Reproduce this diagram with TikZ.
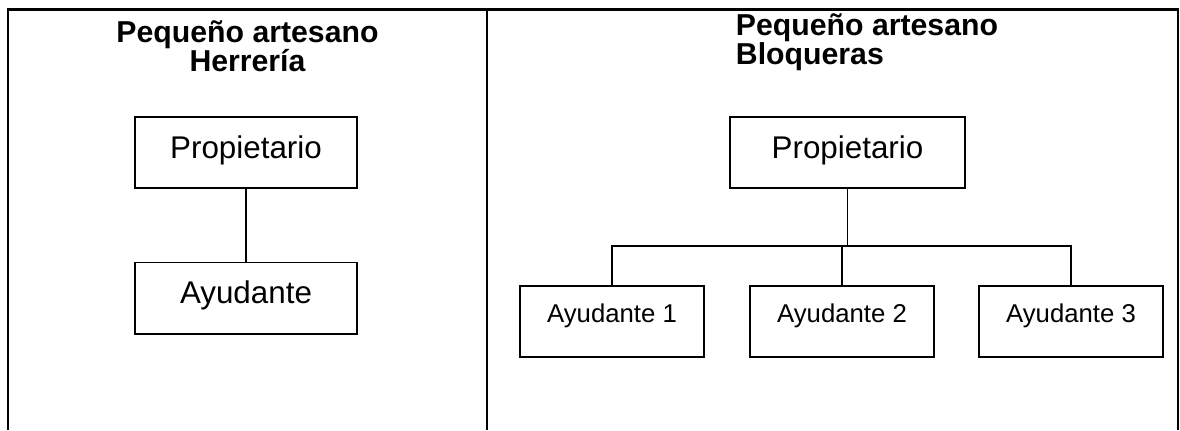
\documentclass[tikz,border=0pt]{standalone}
\usepackage{fontspec}
\setmainfont{Liberation Sans}
\begin{document}
\begin{tikzpicture}[x=0.025cm, y=-0.025cm, line width=1.4pt,
	titulo/.style={font=\fontsize{21.5pt}{24pt}\selectfont\bfseries, inner sep=0pt},
	caja/.style={draw, minimum width=5.55cm, minimum height=1.775cm, inner sep=0pt, font=\fontsize{22.3pt}{26pt}\selectfont, text height=0.5cm, text depth=0.225cm},
	cajita/.style={draw, minimum width=4.6cm, minimum height=1.775cm, inner sep=0pt, font=\fontsize{18.3pt}{22pt}\selectfont, text height=0.35cm, text depth=0.3cm}]
	\useasboundingbox (0,0) rectangle (1180,430);
	% marco
	\draw[line width=1.6pt] (8,430) -- (8,9.5) -- (1178,9.5) -- (1178,430);
	\draw[line width=1.6pt] (487,9.5) -- (487,430);
	% titulos
	\node[titulo, anchor=base] (titL) at (247.5,42) {Pequeño artesano};
	\node[titulo, anchor=base] (subL) at (247.5,71) {Herrería};
	\node[titulo, anchor=base west] (titR) at (735,35) {Pequeño artesano};
	\node[titulo, anchor=base west] (subR) at (735,64) {Bloqueras};
	% herreria
	\node[caja] (propL) at (246,152.5) {Propietario};
	\node[caja] (ayudL) at (246,298) {Ayudante};
	% bloqueras
	\node[caja, minimum width=5.875cm] (propR) at (847.5,152.5) {Propietario};
	\node[cajita] (ayud1) at (612,321.5) {Ayudante 1};
	\node[cajita] (ayud2) at (842,321.5) {Ayudante 2};
	\node[cajita] (ayud3) at (1071,321.5) {Ayudante 3};
	\coordinate (barra) at (846,246);
	\draw (propL) -- (ayudL);
	\draw (propR.south) -- (propR.south |- barra);
	\draw (ayud1.north) |- (barra) -| (ayud3.north);
	\draw (ayud2.north) -- (ayud2.north |- barra);
\end{tikzpicture}
\end{document}
